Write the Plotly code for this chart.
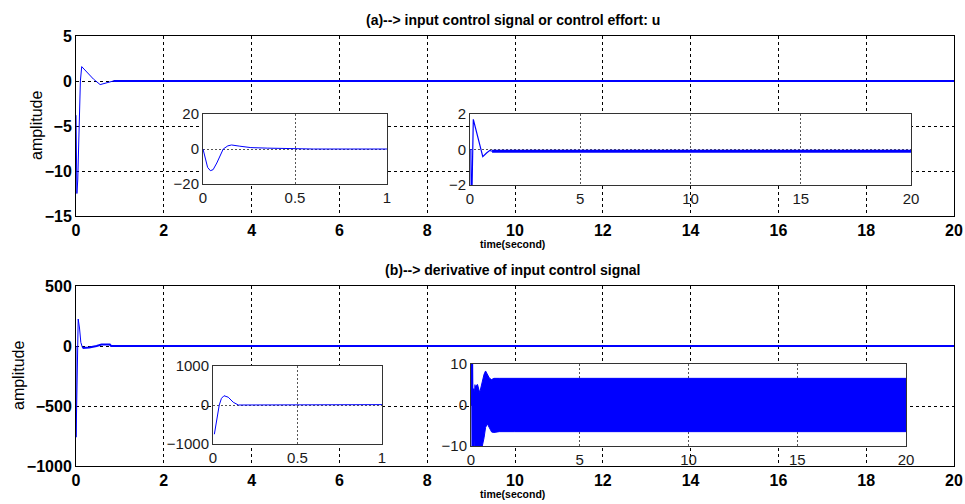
import plotly.graph_objects as go

W, H = 965, 504

# ---------------- data ----------------
# (a) main panel : control effort u(t)
t_u_main = [0, 0.005, 0.02, 0.04, 0.07, 0.1, 0.13, 0.25, 0.4, 0.55, 0.7, 0.85, 1.0, 2, 4, 6, 8, 10, 12, 14, 16, 18, 20]
u_main = [-3.8, -8.0, -12.5, -11.0, -6.0, 0.0, 1.6, 1.0, 0.2, -0.4, -0.2, 0.0, 0.0, 0, 0, 0, 0, 0, 0, 0, 0, 0, 0]

# (a) inset 1 : zoom 0..1 s
t_u_z1 = [0, 0.01, 0.025, 0.04, 0.055, 0.075, 0.095, 0.11, 0.135, 0.155, 0.2, 0.26, 0.35, 0.41, 0.42, 0.6, 0.8, 1.0]
u_z1 = [0, -5.0, -10.5, -12.4, -11.8, -8.0, -3.0, 0.0, 1.8, 2.3, 1.6, 0.8, 0.5, 0.4, 0.0, 0.0, 0.0, 0.0]

# (a) inset 2 : full 0..20 s, y in [-2, 2]
t_u_z2 = [0, 0.04, 0.06, 0.08, 0.15, 0.3, 0.45, 0.58, 0.75, 0.9, 1.0, 1.2, 2, 5, 10, 15, 20]
u_z2 = [0, 0.0, -3.0, -3.0, 1.7, 1.0, 0.2, -0.4, -0.2, -0.05, -0.1, -0.1, -0.1, -0.1, -0.1, -0.1, -0.1]

# (b) main panel : derivative of u
t_du_main = [0, 0.002, 0.02, 0.035, 0.05, 0.08, 0.11, 0.15, 0.3, 0.47, 0.58, 0.77, 0.8, 1.0, 2, 4, 6, 8, 10, 12, 14, 16, 18, 20]
du_main = [0, -760, -400, 0, 225, 150, 30, -17, -12, 0, 12, 12, 0, 0, 0, 0, 0, 0, 0, 0, 0, 0, 0, 0]

# (b) inset 1 : zoom 0..1 s
t_du_z1 = [0.008, 0.02, 0.037, 0.05, 0.065, 0.09, 0.12, 0.15, 0.2, 0.32, 0.4, 0.6, 0.8, 1.0]
du_z1 = [-750, -420, 0, 170, 238, 200, 70, 0, 0, 0, 10, 10, 10, 10]

# (b) inset 2 : full 0..20 s, y in [-10, 10] -- initial spikes and chattering band envelope
t_du_spk = [0.01, 0.03, 0.05, 0.07, 0.1, 0.12, 0.15, 0.18]
du_spk = [0, 12, -12, 12, -12, 4, -12, 5]
t_du_env = [0.18, 0.3, 0.4, 0.5, 0.6, 0.67, 0.75, 0.85, 0.95, 1.05, 1.3, 2, 5, 10, 15, 20]
du_upper = [4.5, 5.0, 3.0, 5.5, 7.5, 8.3, 7.5, 6.5, 6.2, 6.5, 6.5, 6.5, 6.5, 6.5, 6.5, 6.5]
du_lower = [-10.5, -10.5, -10.5, -10.5, -8.0, -5.5, -4.6, -5.5, -6.6, -6.7, -6.5, -6.5, -6.5, -6.5, -6.5, -6.5]

# tick labels
main_x_ticks = [0, 2, 4, 6, 8, 10, 12, 14, 16, 18, 20]
a_main_y_ticks = [-15, -10, -5, 0, 5]
b_main_y_ticks = [-1000, -500, 0, 500]
z1_x_ticks = [0, 0.5, 1]
z1_x_text = ["0", "0.5", "1"]
z2_x_ticks = [0, 5, 10, 15, 20]
a_z1_y_ticks = [-20, 0, 20]
a_z2_y_ticks = [-2, 0, 2]
b_z1_y_ticks = [-1000, 0, 1000]
b_z2_y_ticks = [-10, 0, 10]

titles = ["(a)--> input control signal or control effort: u", "(b)--> derivative of input control signal"]
ylab = "amplitude"
xlab = "time(second)"

# ---------------- layout helpers ----------------
def px_x(a, b):
    return [a / W, b / W]

def px_y(top, bottom):
    return [1 - bottom / H, 1 - top / H]

BLUE = "#0000ff"
FONT = "Liberation Sans, Arial, sans-serif"

fig = go.Figure()

def split(ts, vs, t0):
    a_t, a_v, b_t, b_v = [], [], [], []
    for t, v in zip(ts, vs):
        if t <= t0:
            a_t.append(t); a_v.append(v)
        if t >= t0:
            b_t.append(t); b_v.append(v)
    return a_t, a_v, b_t, b_v

def add_line(ts, vs, xa, ya, t0=None, w1=1.0, w2=2.0):
    if t0 is None:
        fig.add_trace(go.Scatter(x=ts, y=vs, mode="lines", line=dict(color=BLUE, width=w1),
                                 xaxis=xa, yaxis=ya, showlegend=False, hoverinfo="skip"))
        return
    a_t, a_v, b_t, b_v = split(ts, vs, t0)
    fig.add_trace(go.Scatter(x=a_t, y=a_v, mode="lines", line=dict(color=BLUE, width=w1),
                             xaxis=xa, yaxis=ya, showlegend=False, hoverinfo="skip"))
    fig.add_trace(go.Scatter(x=b_t, y=b_v, mode="lines", line=dict(color=BLUE, width=w2),
                             xaxis=xa, yaxis=ya, showlegend=False, hoverinfo="skip"))

# main (a)
add_line(t_u_main, u_main, "x", "y", t0=0.85, w1=1.0, w2=2.0)
# inset a1
add_line(t_u_z1, u_z1, "x2", "y2", w1=1.0)
# inset a2
add_line(t_u_z2, u_z2, "x3", "y3", t0=1.0, w1=1.2, w2=3.0)
# main (b)
add_line(t_du_main, du_main, "x4", "y4", t0=0.15, w1=1.0, w2=2.0)
# inset b1
add_line(t_du_z1, du_z1, "x5", "y5", w1=1.0)
# inset b2
fig.add_trace(go.Scatter(x=t_du_spk, y=du_spk, mode="lines", line=dict(color=BLUE, width=1.2),
                         xaxis="x6", yaxis="y6", showlegend=False, hoverinfo="skip"))
fig.add_trace(go.Scatter(x=t_du_env, y=du_upper, mode="lines", line=dict(color=BLUE, width=1),
                         xaxis="x6", yaxis="y6", showlegend=False, hoverinfo="skip"))
fig.add_trace(go.Scatter(x=t_du_env, y=du_lower, mode="lines", line=dict(color=BLUE, width=1),
                         fill="tonexty", fillcolor=BLUE,
                         xaxis="x6", yaxis="y6", showlegend=False, hoverinfo="skip"))

main_tick_font = dict(family=FONT, size=16, color="black", weight="bold")
inset_tick_font = dict(family=FONT, size=15, color="#1a1a1a")

common = dict(zeroline=False, showline=True, mirror=True, linewidth=1, ticks="",
              fixedrange=True, automargin=False, showgrid=True, gridwidth=1)

def main_x(domain, anchor):
    return dict(domain=domain, anchor=anchor, range=[0, 20], tickvals=main_x_ticks,
                gridcolor="black", griddash="3px,3px", linecolor="black",
                tickfont=main_tick_font, **common)

def main_y(domain, anchor, rng, ticks):
    return dict(domain=domain, anchor=anchor, range=rng, tickvals=ticks,
                gridcolor="black", griddash="3px,3px", linecolor="black",
                tickfont=main_tick_font, **common)

def inset_x(domain, anchor, rng, ticks, text=None):
    d = dict(domain=domain, anchor=anchor, range=rng, tickvals=ticks,
             gridcolor="#555555", griddash="2px,2px", linecolor="#333333",
             tickfont=inset_tick_font, **common)
    if text is not None:
        d["ticktext"] = text
    return d

def inset_y(domain, anchor, rng, ticks):
    return dict(domain=domain, anchor=anchor, range=rng, tickvals=ticks,
                gridcolor="#555555", griddash="2px,2px", linecolor="#333333",
                tickfont=inset_tick_font, **common)

fig.update_layout(
    width=W, height=H,
    margin=dict(l=0, r=0, t=0, b=0, autoexpand=False),
    paper_bgcolor="white", plot_bgcolor="white",
    showlegend=False,
    xaxis=main_x(px_x(76, 954), "y"),
    yaxis=main_y(px_y(36, 216), "x", [-15, 5], a_main_y_ticks),
    xaxis2=inset_x(px_x(203, 387), "y2", [0, 1], z1_x_ticks, z1_x_text),
    yaxis2=inset_y(px_y(114, 184), "x2", [-20, 20], a_z1_y_ticks),
    xaxis3=inset_x(px_x(470, 911), "y3", [0, 20], z2_x_ticks),
    yaxis3=inset_y(px_y(114, 185), "x3", [-2, 2], a_z2_y_ticks),
    xaxis4=main_x(px_x(76, 954), "y4"),
    yaxis4=main_y(px_y(286, 466), "x4", [-1000, 500], b_main_y_ticks),
    xaxis5=inset_x(px_x(213, 382), "y5", [0, 1], z1_x_ticks, z1_x_text),
    yaxis5=inset_y(px_y(366, 444), "x5", [-1000, 1000], b_z1_y_ticks),
    xaxis6=inset_x(px_x(471, 906), "y6", [0, 20], z2_x_ticks),
    yaxis6=inset_y(px_y(364, 446), "x6", [-10, 10], b_z2_y_ticks),
)

ann = []
for title, ty in zip(titles, [20, 270]):
    ann.append(dict(text=title, x=513 / W, y=1 - ty / H, xref="paper", yref="paper",
                    showarrow=False, xanchor="center", yanchor="middle",
                    font=dict(family=FONT, size=14, color="black", weight="bold")))
for cx, cy in [(36, 126), (18, 376)]:
    ann.append(dict(text=ylab, x=cx / W, y=1 - cy / H, xref="paper", yref="paper",
                    showarrow=False, xanchor="center", yanchor="middle", textangle=-90,
                    font=dict(family=FONT, size=16, color="black")))
for ly in [244, 494]:
    ann.append(dict(text=xlab, x=512 / W, y=1 - ly / H, xref="paper", yref="paper",
                    showarrow=False, xanchor="center", yanchor="middle",
                    font=dict(family=FONT, size=10.5, color="black", weight="bold")))
fig.update_layout(annotations=ann)

fig.write_html("out.html")
